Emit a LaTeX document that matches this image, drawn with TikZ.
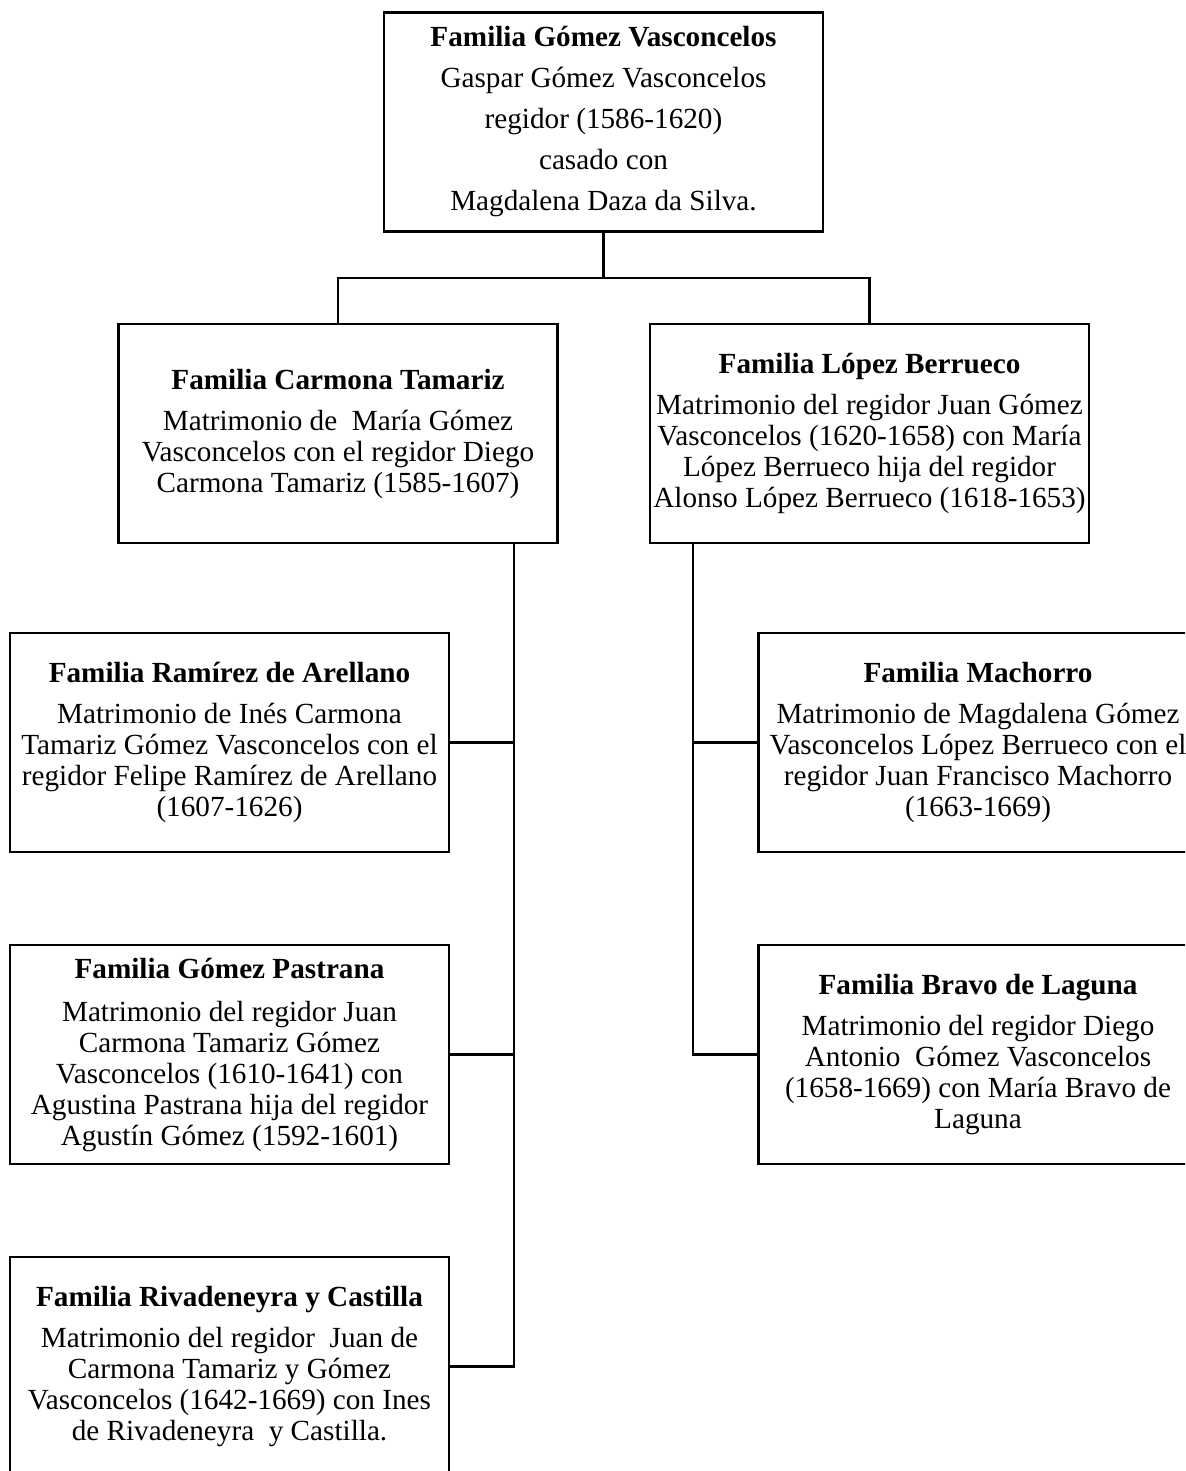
\documentclass[tikz,border=0pt]{standalone}
\usepackage{fontspec}
\setmainfont{Liberation Serif}
\usetikzlibrary{calc}

\begin{document}
\begin{tikzpicture}[x=1pt,y=-1pt,
    fam/.style={draw, line width=2.5pt, minimum width=439pt, minimum height=219pt,
      align=center, inner sep=2pt, font=\fontsize{29.2pt}{31pt}\selectfont},
    rama/.style={line width=2.5pt}]
    \useasboundingbox (0,0) rectangle (1185,1471);
    \clip (0,0) rectangle (1185,1471);

    \node (gv) [fam, font=\fontsize{29.2pt}{41pt}\selectfont] at (603.5,122)
      {\textbf{Familia Gómez Vasconcelos}\\Gaspar Gómez Vasconcelos\\regidor (1586-1620)\\casado con\\Magdalena Daza da Silva.};
    \node (ct) [fam] at (338,433.5)
      {\textbf{Familia Carmona Tamariz}\\[10pt]Matrimonio de~ María Gómez\\Vasconcelos con el regidor Diego\\Carmona Tamariz (1585-1607)};
    \node (lb) [fam] at (869.5,433.5)
      {\textbf{Familia López Berrueco}\\[10pt]Matrimonio del regidor Juan Gómez\\Vasconcelos (1620-1658) con María\\López Berrueco hija del regidor\\Alonso López Berrueco (1618-1653)};
    \node (ra) [fam] at (229.5,742.5)
      {\textbf{Familia Ramírez de Arellano}\\[10pt]Matrimonio de Inés Carmona\\Tamariz Gómez Vasconcelos con el\\regidor Felipe Ramírez de Arellano\\(1607-1626)};
    \node (gp) [fam] at (229.5,1054.5)
      {\textbf{Familia Gómez Pastrana}\\[12pt]Matrimonio del regidor Juan\\Carmona Tamariz Gómez\\Vasconcelos (1610-1641) con\\Agustina Pastrana hija del regidor\\Agustín Gómez (1592-1601)};
    \node (rc) [fam] at (229.5,1366.5)
      {\textbf{Familia Rivadeneyra y Castilla}\\[10pt]Matrimonio del regidor~ Juan de\\Carmona Tamariz y Gómez\\Vasconcelos (1642-1669) con Ines\\de Rivadeneyra~ y Castilla.};
    \node (ma) [fam] at (978,742.5)
      {\textbf{Familia Machorro}\\[10pt]Matrimonio de Magdalena Gómez\\Vasconcelos López Berrueco con el\\regidor Juan Francisco Machorro\\(1663-1669)};
    \node (bl) [fam] at (978,1054.5)
      {\textbf{Familia Bravo de Laguna}\\[10pt]Matrimonio del regidor Diego\\Antonio~ Gómez Vasconcelos\\(1658-1669) con María Bravo de\\Laguna};

    % ramas
    \coordinate (j) at (603.5,278);
    \coordinate (lt) at (514,0);
    \coordinate (rt) at (693,0);
    \draw[rama] (gv.south) -- (j);
    \draw[rama] (ct.north) |- (j) -| (lb.north);
    \draw[rama] (rc.east) -| (ct.south -| lt);
    \draw[rama] (ra.east) -- (ra.east -| lt);
    \draw[rama] (gp.east) -- (gp.east -| lt);
    \draw[rama] (bl.west) -| (lb.south -| rt);
    \draw[rama] (ma.west) -- (ma.west -| rt);
\end{tikzpicture}
\end{document}
